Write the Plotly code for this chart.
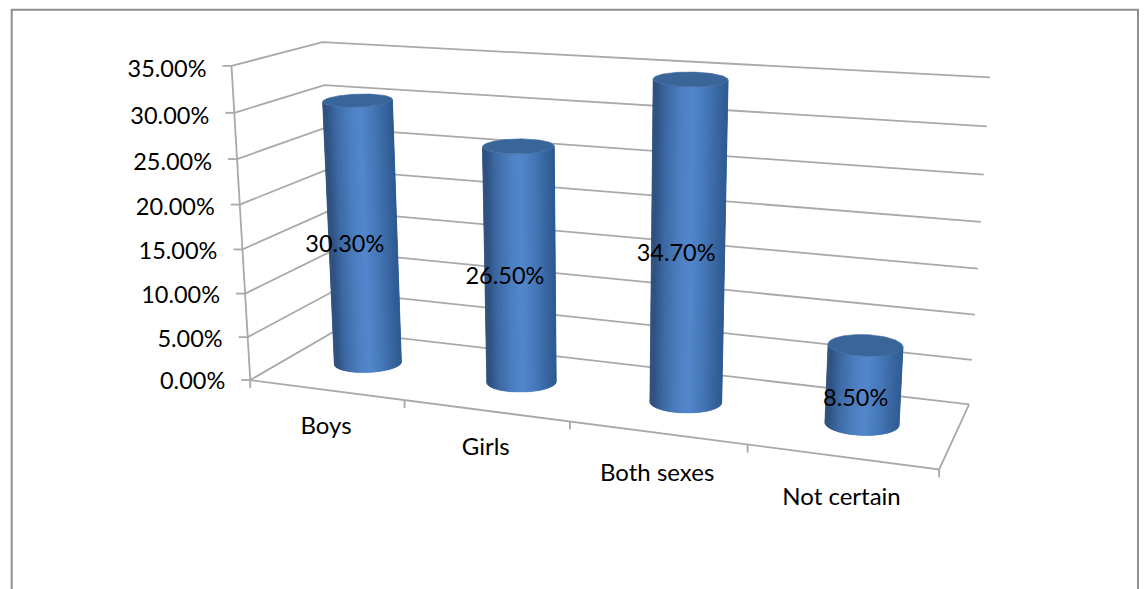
import numpy as np
import plotly.graph_objects as go

categories = ["Boys", "Girls", "Both sexes", "Not certain"]
values = [30.3, 26.5, 34.7, 8.5]
value_labels = ["30.30%", "26.50%", "34.70%", "8.50%"]
y_ticks = [0, 5, 10, 15, 20, 25, 30, 35]
y_tick_labels = ["0.00%", "5.00%", "10.00%", "15.00%", "20.00%", "25.00%", "30.00%", "35.00%"]

W, H = 1144, 589
FONT = "Lato"
GRID = "#a9a9a9"
FRAME = "#8f8f8f"

# Camera of the 3-D chart box: fitted from where the box corners fall on the page.
# (category position, value, depth) -> page pixel
anchors = [
    ((0, 0, 0), (250, 379.5)), ((0, 35, 0), (232, 66)),
    ((0, 35, 1), (322, 42)), ((0, 0, 1), (336, 331)),
    ((4, 35, 1), (990, 77.5)), ((4, 0, 1), (969, 404)),
    ((4, 0, 0), (939, 469.5)), ((1, 0, 0), (404, 400)),
    ((2, 0, 0), (570, 422)), ((3, 0, 0), (748, 444.5)),
]
rows = []
for (a, b, c), (u, v) in anchors:
    rows.append([a, b, c, 1, 0, 0, 0, 0, -u*a, -u*b, -u*c, -u])
    rows.append([0, 0, 0, 0, a, b, c, 1, -v*a, -v*b, -v*c, -v])
CAM = np.linalg.svd(np.array(rows, float))[2][-1].reshape(3, 4)


def proj(a, b, c):
    a, b, c = np.broadcast_arrays(np.asarray(a, float), np.asarray(b, float), np.asarray(c, float))
    p = np.stack([a, b, c, np.ones_like(a)])
    q = CAM @ p.reshape(4, -1)
    return (q[0]/q[2]).reshape(a.shape), (q[1]/q[2]).reshape(a.shape)


fig = go.Figure()


def line(xs, ys, color=GRID, width=1.8):
    fig.add_trace(go.Scatter(x=list(xs), y=list(ys), mode="lines",
                             line=dict(color=color, width=width), hoverinfo="skip"))


# chart frame (runs off the bottom of the page)
line([11.7, 11.7, 1138, 1138], [H + 5, 9.8, 9.8, H + 5], FRAME, 2)

# gridlines on side wall and back wall
for t in y_ticks:
    xs, ys = proj([0, 0, 4], [t, t, t], [0, 1, 1])
    line(xs, ys)
# value axis, category axis, floor edge
xs, ys = proj([0, 0], [0, 35], [0, 0])
line(xs, ys)
xs, ys = proj([0, 4, 4], [0, 0, 0], [0, 0, 1])
line(xs, ys)
# ticks
for t in y_ticks:
    xs, ys = proj(0, t, 0)
    line([xs - 9, xs], [ys, ys])
for i in range(5):
    xs, ys = proj(i, 0, 0)
    line([xs, xs], [ys, ys + 8])

# cylinders
stops = [(0.0, (48, 92, 148)), (0.12, (58, 103, 161)), (0.30, (72, 122, 187)),
         (0.47, (84, 136, 205)), (0.62, (78, 128, 194)), (0.82, (63, 107, 166)),
         (0.95, (48, 84, 130)), (1.0, (52, 84, 126))]
TOP = "#3a6598"
DEPTH = 0.5
TILT = 0.025
NSTRIP = 70
th = np.linspace(0, 2*np.pi, 181)


def disc(i, v, angle):
    """Level ellipse of the cylinder i at value v, at the given angles (page space)."""
    cx, cy = proj(i + .5, v, DEPTH)
    rx = 33.5 + 1.2*i + 0.045*v
    ratio = 0.29 + 0.012*(i - 1) - 0.003*v
    dx = rx*np.cos(angle)
    return cx + dx, cy + rx*ratio*np.sin(angle) + (i - 1.5)*TILT*dx


def shade(u):
    r = [np.interp(u, [s[0] for s in stops], [s[1][k] for s in stops]) for k in range(3)]
    return "rgb(%d,%d,%d)" % tuple(r)


for i, v in enumerate(values):
    # near side of each ring, left silhouette to right silhouette (page y grows downward)
    a = np.linspace(np.pi, 0, NSTRIP + 1)
    for k in range(NSTRIP):
        seg = a[k:min(k + 3, NSTRIP + 1)]
        x1, y1 = disc(i, v, seg)
        x2, y2 = disc(i, 0, seg[::-1])
        u = (1 - np.cos((a[k] + a[k + 1])/2))/2
        c = shade(float(u))
        fig.add_trace(go.Scatter(x=np.r_[x1, x2, x1[0]], y=np.r_[y1, y2, y1[0]], mode="lines",
                                 fill="toself", fillcolor=c, line=dict(color=c, width=0.2),
                                 hoverinfo="skip"))
    tx, ty = disc(i, v, th)
    fig.add_trace(go.Scatter(x=tx, y=ty, mode="lines", fill="toself", fillcolor=TOP,
                             line=dict(color="#3f6ca3", width=0.6), hoverinfo="skip"))

# text
cat_dy = np.array([38.5, 38, 42.5, 42.5])
lx, ly = proj(np.arange(4) + .5, 0, 0)
fig.add_trace(go.Scatter(x=lx, y=ly + cat_dy, mode="text", text=categories, textposition="middle center",
                         textfont=dict(family=FONT, size=24, color="black"), hoverinfo="skip"))
tx_, ty_ = proj(np.zeros(8), y_ticks, np.zeros(8))
fig.add_trace(go.Scatter(x=tx_ - 25, y=ty_ + 3.5 + 0.045*np.array(y_ticks), mode="text", text=y_tick_labels,
                         textposition="middle left",
                         textfont=dict(family=FONT, size=23.5, color="black"), hoverinfo="skip"))
val_dx = np.array([-18, -15, -12, -8])
val_dy = np.array([11, 12, 10, 15])
mx, my = proj(np.arange(4) + .5, np.array(values)/2, DEPTH)
fig.add_trace(go.Scatter(x=mx + val_dx, y=my + val_dy, mode="text", text=value_labels, textposition="middle center",
                         textfont=dict(family=FONT, size=23.5, color="black"), hoverinfo="skip"))

fig.update_layout(
    width=W, height=H, margin=dict(l=0, r=0, t=0, b=0), showlegend=False,
    plot_bgcolor="white", paper_bgcolor="white",
    xaxis=dict(range=[0, W], visible=False, fixedrange=True),
    yaxis=dict(range=[H, 0], visible=False, fixedrange=True),
)
fig.write_html("out.html", config=dict(displayModeBar=False),
               post_script="document.body.style.margin='0';document.body.style.overflow='hidden';")
